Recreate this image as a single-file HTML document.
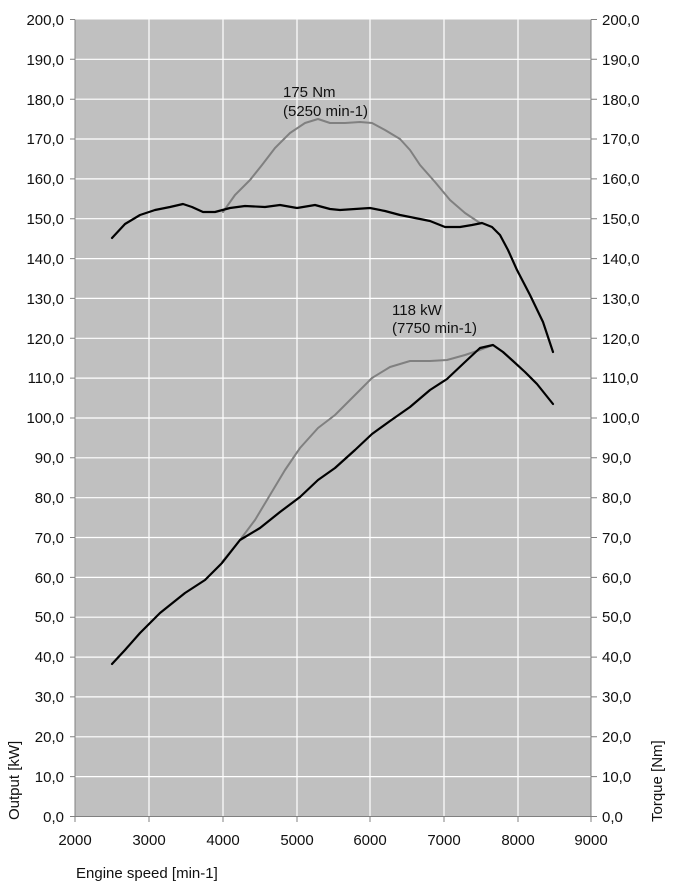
<!DOCTYPE html>
<html><head><meta charset="utf-8"><style>
body{margin:0;background:#fff}
svg{display:block;font-family:"Liberation Sans",sans-serif}
</style></head><body>
<svg width="674" height="891" viewBox="0 0 674 891">
<rect x="75" y="19.5" width="516" height="797" fill="#c0c0c0"/>
<g stroke="#fff" stroke-width="1.2">
<line x1="75" x2="591" y1="59.3" y2="59.3"/><line x1="75" x2="591" y1="99.2" y2="99.2"/><line x1="75" x2="591" y1="139" y2="139"/><line x1="75" x2="591" y1="178.9" y2="178.9"/><line x1="75" x2="591" y1="218.7" y2="218.7"/><line x1="75" x2="591" y1="258.6" y2="258.6"/><line x1="75" x2="591" y1="298.4" y2="298.4"/><line x1="75" x2="591" y1="338.3" y2="338.3"/><line x1="75" x2="591" y1="378.1" y2="378.1"/><line x1="75" x2="591" y1="418" y2="418"/><line x1="75" x2="591" y1="457.8" y2="457.8"/><line x1="75" x2="591" y1="497.7" y2="497.7"/><line x1="75" x2="591" y1="537.5" y2="537.5"/><line x1="75" x2="591" y1="577.4" y2="577.4"/><line x1="75" x2="591" y1="617.2" y2="617.2"/><line x1="75" x2="591" y1="657.1" y2="657.1"/><line x1="75" x2="591" y1="696.9" y2="696.9"/><line x1="75" x2="591" y1="736.8" y2="736.8"/><line x1="75" x2="591" y1="776.6" y2="776.6"/>
<line x1="149" x2="149" y1="19.5" y2="816.5"/><line x1="223" x2="223" y1="19.5" y2="816.5"/><line x1="297" x2="297" y1="19.5" y2="816.5"/><line x1="370" x2="370" y1="19.5" y2="816.5"/><line x1="444" x2="444" y1="19.5" y2="816.5"/><line x1="518" x2="518" y1="19.5" y2="816.5"/>
</g>
<g stroke="#808080" stroke-width="1">
<line x1="75" x2="75" y1="19.5" y2="816.5"/><line x1="591" x2="591" y1="19.5" y2="816.5"/><line x1="75" x2="591" y1="816.5" y2="816.5"/>
</g>
<g stroke="#808080" stroke-width="1" id="t">
<path d="M70 19.5h5M70 59.3h5M70 99.2h5M70 139h5M70 178.9h5M70 218.7h5M70 258.6h5M70 298.4h5M70 338.3h5M70 378.1h5M70 418h5M70 457.8h5M70 497.7h5M70 537.5h5M70 577.4h5M70 617.2h5M70 657.1h5M70 696.9h5M70 736.8h5M70 776.6h5M70 816.5h5"/>
<path d="M591 19.5h6M591 59.3h6M591 99.2h6M591 139h6M591 178.9h6M591 218.7h6M591 258.6h6M591 298.4h6M591 338.3h6M591 378.1h6M591 418h6M591 457.8h6M591 497.7h6M591 537.5h6M591 577.4h6M591 617.2h6M591 657.1h6M591 696.9h6M591 736.8h6M591 776.6h6M591 816.5h6"/>
<path d="M75 816v6M149 816v6M223 816v6M297 816v6M370 816v6M444 816v6M518 816v6M591 816v6"/>
</g>
<g font-size="15" fill="#111" text-anchor="end">
<text x="64" y="25">200,0</text><text x="64" y="65">190,0</text><text x="64" y="105">180,0</text><text x="64" y="144">170,0</text><text x="64" y="184">160,0</text><text x="64" y="224">150,0</text><text x="64" y="264">140,0</text><text x="64" y="304">130,0</text><text x="64" y="344">120,0</text><text x="64" y="383">110,0</text><text x="64" y="423">100,0</text><text x="64" y="463">90,0</text><text x="64" y="503">80,0</text><text x="64" y="543">70,0</text><text x="64" y="583">60,0</text><text x="64" y="622">50,0</text><text x="64" y="662">40,0</text><text x="64" y="702">30,0</text><text x="64" y="742">20,0</text><text x="64" y="782">10,0</text><text x="64" y="822">0,0</text>
</g>
<g font-size="15" fill="#111">
<text x="602" y="25">200,0</text><text x="602" y="65">190,0</text><text x="602" y="105">180,0</text><text x="602" y="144">170,0</text><text x="602" y="184">160,0</text><text x="602" y="224">150,0</text><text x="602" y="264">140,0</text><text x="602" y="304">130,0</text><text x="602" y="344">120,0</text><text x="602" y="383">110,0</text><text x="602" y="423">100,0</text><text x="602" y="463">90,0</text><text x="602" y="503">80,0</text><text x="602" y="543">70,0</text><text x="602" y="583">60,0</text><text x="602" y="622">50,0</text><text x="602" y="662">40,0</text><text x="602" y="702">30,0</text><text x="602" y="742">20,0</text><text x="602" y="782">10,0</text><text x="602" y="822">0,0</text>
</g>
<g font-size="15" fill="#111" text-anchor="middle">
<text x="75" y="845">2000</text><text x="149" y="845">3000</text><text x="223" y="845">4000</text><text x="297" y="845">5000</text><text x="370" y="845">6000</text><text x="444" y="845">7000</text><text x="518" y="845">8000</text><text x="591" y="845">9000</text>
</g>
<text x="76" y="878" font-size="15" fill="#111">Engine speed [min-1]</text>
<text transform="translate(19,820) rotate(-90)" font-size="15" fill="#111">Output [kW]</text>
<text transform="translate(662,822) rotate(-90)" font-size="15" fill="#111">Torque [Nm]</text>
<text x="283" y="97" font-size="15" fill="#111">175 Nm</text>
<text x="283" y="116" font-size="15" fill="#111">(5250 min-1)</text>
<text x="392" y="315" font-size="15" fill="#111">118 kW</text>
<text x="392" y="333" font-size="15" fill="#111">(7750 min-1)</text>
<g fill="none" stroke-linejoin="round" stroke-linecap="round">
<polyline stroke="#808080" stroke-width="2" points="223,212 235,195 250,180 262,165 275,148 290,133 305,123 318,119 330,123 345,123 360,122 372,123 385,130 400,139 410,150 420,165 435,182 450,200 465,213 480,223"/>
<polyline stroke="#808080" stroke-width="2" points="222,562 240,540 255,520 270,495 285,470 300,448 318,428 335,415 352,398 372,378 390,367 410,361 430,361 447,360 465,355 480,350 493,345"/>
<polyline stroke="#000" stroke-width="2.2" points="112,238 125,224 140,215 155,210 170,207 183,204 192,207 203,212 215,212 230,208 245,206 265,207 280,205 297,208 315,205 330,209 340,210 355,209 370,208 385,211 400,215 420,219 430,221 445,227 460,227 472,225 482,223 492,227 500,235 508,250 517,270 530,295 543,322 553,352"/>
<polyline stroke="#000" stroke-width="2.2" points="112,664 125,650 140,633 160,613 185,593 205,580 222,563 240,540 260,528 280,512 300,497 318,480 335,468 355,450 372,434 390,421 410,407 430,390 447,379 465,362 480,348 493,345 503,352 513,361 525,372 537,384 553,404"/>
</g>
</svg>
</body></html>
